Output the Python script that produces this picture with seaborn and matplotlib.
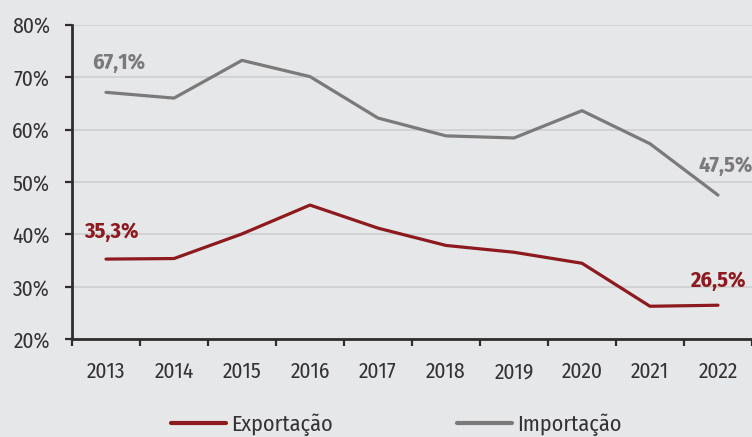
import matplotlib
matplotlib.use("Agg")
import matplotlib.pyplot as plt
import seaborn as sns
import pandas as pd
from matplotlib.ticker import FixedLocator, FuncFormatter

years = [2013, 2014, 2015, 2016, 2017, 2018, 2019, 2020, 2021, 2022]
exportacao = [35.3, 35.4, 40.1, 45.6, 41.2, 37.9, 36.6, 34.5, 26.3, 26.5]
importacao = [67.1, 66.0, 73.2, 70.1, 62.2, 58.8, 58.4, 63.6, 57.3, 47.5]
series_names = ["Exportação", "Importação"]
y_ticks = [20, 30, 40, 50, 60, 70, 80]

colors = {"Exportação": "#8c1a1e", "Importação": "#7a7a7b"}
bg = "#e6e7e9"

df = pd.DataFrame({
    "Ano": years * 2,
    "Valor": exportacao + importacao,
    "Série": [series_names[0]] * len(years) + [series_names[1]] * len(years),
})

sns.set_style("white")
plt.rcParams['font.family'] = ['Fira Sans Condensed', 'DejaVu Sans']

fig = plt.figure(figsize=(7.52, 4.37), dpi=100, facecolor=bg)
ax = fig.add_axes([72 / 752, 1 - 339.3 / 437, 1 - 72 / 752, (339.3 - 24.7) / 437])
ax.set_facecolor(bg)

sns.lineplot(data=df, x="Ano", y="Valor", hue="Série", palette=colors,
             linewidth=2.3, ax=ax, legend=True)

ax.set_xlim(2012.5, 2022.5)
ax.set_ylim(20, 80)
ax.set_yticks(y_ticks)
ax.yaxis.set_major_formatter(FuncFormatter(lambda v, p: f"{int(v)}%"))
ax.set_xticks(years)
ax.set_xticklabels([str(y) for y in years])
ax.xaxis.set_minor_locator(FixedLocator([y - 0.5 for y in years] + [2022.5]))

ax.grid(axis="y", color="#cfd0d2", linewidth=1.3)
ax.set_axisbelow(True)
for s in ["top", "right"]:
    ax.spines[s].set_visible(False)
for s in ["left", "bottom"]:
    ax.spines[s].set_color("#2e2e2e")
    ax.spines[s].set_linewidth(2)

ax.tick_params(axis="y", which="major", length=5, width=1.6, color="#2e2e2e",
               labelsize=15.5, labelcolor="#333333", pad=11, direction="out", left=True)
ax.tick_params(axis="x", which="major", length=0, labelsize=15.5, labelcolor="#333333", pad=16)
ax.tick_params(axis="x", which="minor", length=5, width=1.6, color="#2e2e2e", direction="out", bottom=True)

ax.set_xlabel("")
ax.set_ylabel("")

# annotations
ann = [
    (years[0], importacao[0], "67,1%", colors["Importação"], 13, 29),
    (years[0], exportacao[0], "35,3%", colors["Exportação"], 5, 27),
    (years[-1], importacao[-1], "47,5%", colors["Importação"], 8, 29),
    (years[-1], exportacao[-1], "26,5%", colors["Exportação"], 0, 24),
]
for x, y, txt, c, dx, dy in ann:
    ax.annotate(txt, (x, y), xytext=(dx, dy), textcoords="offset pixels",
                ha="center", va="center", color=c, fontsize=16, fontweight="bold",
                annotation_clip=False)

handles, labels = ax.get_legend_handles_labels()
ax.get_legend().remove()
leg = fig.legend(handles, labels, loc="center", bbox_to_anchor=(396 / 752, 1 - 425 / 437),
                 ncol=2, frameon=False, fontsize=16, handlelength=2.5, handletextpad=0.2,
                 columnspacing=5.6, labelcolor="#333333")
for l in leg.get_lines():
    l.set_linewidth(3)

fig.savefig("out.png", dpi=100, facecolor=bg)
